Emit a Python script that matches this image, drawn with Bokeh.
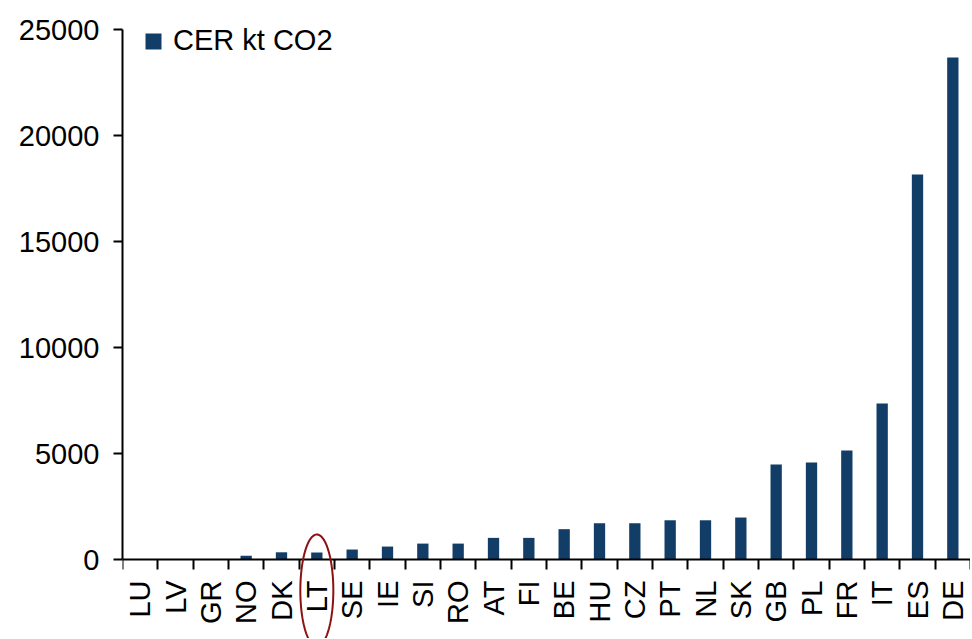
import numpy as np
from bokeh.plotting import figure
from bokeh.models import ColumnDataSource, Range1d, FixedTicker, PolyAnnotation
from bokeh.embed import file_html
from bokeh.resources import INLINE

# ---- data ----
countries = ["LU", "LV", "GR", "NO", "DK", "LT", "SE", "IE", "SI", "RO", "AT", "FI",
             "BE", "HU", "CZ", "PT", "NL", "SK", "GB", "PL", "FR", "IT", "ES", "DE"]
cer_kt_co2 = [0, 0, 0, 180, 340, 330, 470, 610, 750, 750, 1020, 1020,
              1430, 1710, 1710, 1850, 1850, 1980, 4480, 4580, 5140, 7360, 18160, 23680]
y_ticks = [0, 5000, 10000, 15000, 20000, 25000]
highlight = "LT"
series_name = "CER kt CO2"

BAR = "#113d66"
FONT = "Liberation Sans"
FS = "29px"

W, H = 970, 638
LEFT = 122
TOP_PX = 29    # pixel row of 25000
ZERO_PX = 559  # pixel row of value 0

n = len(countries)
xpos = [i + 0.5 for i in range(n)]
src = ColumnDataSource(dict(x=xpos, top=cer_kt_co2, name=countries))

px_per_y = (ZERO_PX - TOP_PX) / (y_ticks[-1] - y_ticks[0])
px_per_x = (W - LEFT) / n
y_start = -(H - ZERO_PX) / px_per_y       # room below the axis for labels / ellipse
y_end = y_ticks[-1] + TOP_PX / px_per_y   # room above for the top tick label / legend

p = figure(width=W, height=H, output_backend="svg", toolbar_location=None,
           x_range=Range1d(0, n), y_range=Range1d(y_start, y_end),
           min_border_left=LEFT, min_border_top=0, min_border_bottom=0, min_border_right=0)
p.outline_line_color = None
p.xgrid.visible = False
p.ygrid.visible = False
p.background_fill_color = "white"

p.vbar(x="x", top="top", bottom=0, width=0.32, source=src, fill_color=BAR,
       line_color=None, legend_label=series_name)

# y axis
ya = p.yaxis[0]
ya.ticker = FixedTicker(ticks=y_ticks)
ya.bounds = (y_ticks[0], y_ticks[-1])
ya.major_label_text_font = FONT
ya.major_label_text_font_size = FS
ya.major_label_text_color = "black"
ya.axis_line_width = 2
ya.axis_line_color = "black"
ya.major_tick_line_width = 2
ya.major_tick_line_color = "black"
ya.major_tick_out = 9
ya.major_tick_in = 0
ya.minor_tick_line_color = None
ya.major_label_standoff = 14

# x axis at value 0: labels at category centres, ticks at category boundaries
xa = p.xaxis[0]
xa.fixed_location = 0
xa.ticker = FixedTicker(ticks=xpos, minor_ticks=list(range(n + 1)))
xa.major_label_overrides = {float(x): c for x, c in zip(xpos, countries)}
xa.major_label_orientation = np.pi / 2
xa.major_label_text_font = FONT
xa.major_label_text_font_size = FS
xa.major_label_text_color = "black"
xa.major_tick_line_color = None
xa.major_tick_out = 0
xa.major_tick_in = 0
xa.minor_tick_out = 10
xa.minor_tick_in = 0
xa.minor_tick_line_width = 2
xa.minor_tick_line_color = "black"
xa.axis_line_width = 2
xa.axis_line_color = "black"
xa.major_label_standoff = 11

# legend
lg = p.legend[0]
lg.margin = 0
lg.padding = 0
lg.border_line_color = None
lg.background_fill_alpha = 0
lg.glyph_width = 20
lg.glyph_height = 20
lg.label_standoff = 10
lg.label_text_font = FONT
lg.label_text_font_size = FS
lg.label_text_color = "black"
lg.location = (21, H - 57)

# highlight ellipse around the LT label
cx = xpos[countries.index(highlight)]
cy = -31 / px_per_y
rx = 16.5 / px_per_x
ry = 56 / px_per_y
t = np.linspace(0, 2 * np.pi, 120)
ell = PolyAnnotation(xs=list(cx + rx * np.cos(t)), ys=list(cy + ry * np.sin(t)),
                     xs_units="data", ys_units="data", fill_alpha=0,
                     line_color="#8c1111", line_alpha=1.0, line_width=2)
p.add_layout(ell)

open("out.html", "w").write(file_html(p, INLINE))
